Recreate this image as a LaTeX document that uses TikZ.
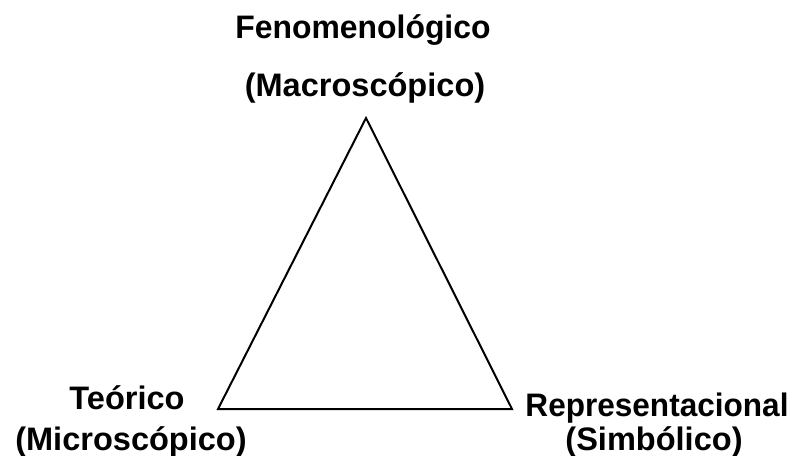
\documentclass[tikz,border=0pt]{standalone}
\usepackage{fontspec}
\setmainfont{Liberation Sans}
\begin{document}
\begin{tikzpicture}[x=0.75pt,y=-0.75pt,
  lbl/.style={font=\fontsize{24.4pt}{28pt}\selectfont\bfseries, inner sep=0pt, anchor=base},
  tri/.style={draw=black, line width=1.5pt, line join=miter}]
\useasboundingbox (0,0) rectangle (792,455);
\coordinate (A) at (366,118);
\coordinate (B) at (218,409);
\coordinate (C) at (512,409);
\draw[tri] (A) -- (B) -- (C) -- cycle;
\node[lbl, xscale=0.98] (f1) at (363,38) {Fenomenológico};
\node[lbl] (f2) at (365,96) {(Macroscópico)};
\node[lbl] (t1) at (127,409) {Teórico};
\node[lbl] (t2) at (131,450) {(Microscópico)};
\node[lbl, xscale=0.97] (r1) at (657,416) {Representacional};
\node[lbl] (r2) at (654,450) {(Simbólico)};
\end{tikzpicture}
\end{document}
